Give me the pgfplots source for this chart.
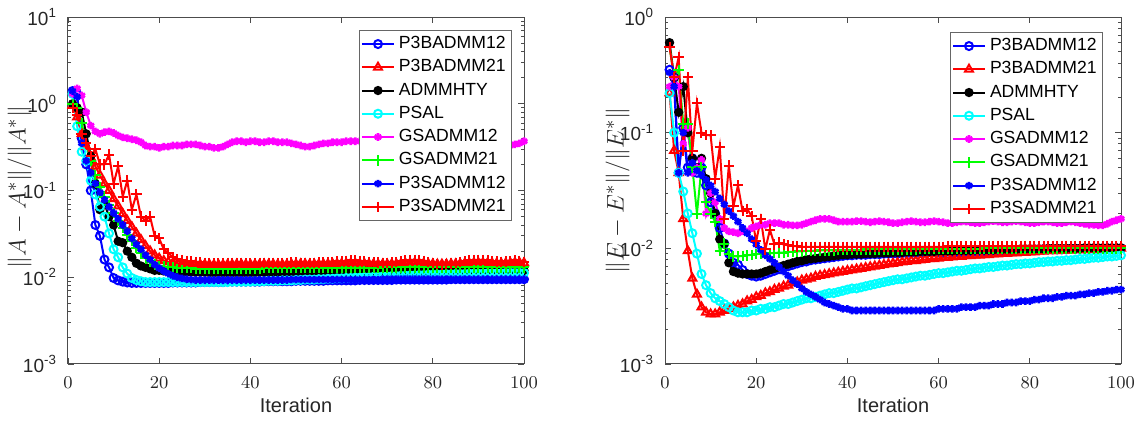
\documentclass[border=0pt]{standalone}
\usepackage{pgfplots}
\pgfplotsset{compat=1.18}
\usepackage{pgfplotstable}
\usepackage{fontspec}
\setmainfont{Liberation Sans}

\definecolor{mblue}{rgb}{0,0,1}
\definecolor{mred}{rgb}{1,0,0}
\definecolor{mcyan}{rgb}{0,1,1}
\definecolor{mmag}{rgb}{1,0,1}
\definecolor{mgreen}{rgb}{0,1,0}

% relative error of A, columns: P3BADMM12 P3BADMM21 ADMMHTY PSAL GSADMM12 GSADMM21 P3SADMM12 P3SADMM21
\pgfplotstableread{
it a b c d e f g h
1 1.40 0.95 1.00 1.30 1.30 1.00 1.40 0.90
2 1.30 0.70 0.90 0.55 1.50 0.90 1.20 0.75
3 0.40 0.45 0.80 0.28 1.25 0.60 0.35 0.45
4 0.20 0.32 0.45 0.22 0.80 0.35 0.22 0.35
5 0.10 0.24 0.25 0.13 0.56 0.22 0.16 0.25
6 0.040 0.19 0.12 0.090 0.48 0.15 0.12 0.30
7 0.030 0.15 0.060 0.065 0.45 0.11 0.095 0.20
8 0.016 0.12 0.070 0.050 0.47 0.085 0.078 0.20
9 0.013 0.10 0.050 0.032 0.48 0.068 0.065 0.26
10 0.0098 0.080 0.040 0.021 0.46 0.055 0.055 0.12
11 0.0092 0.066 0.026 0.017 0.43 0.045 0.047 0.19
12 0.0089 0.054 0.025 0.013 0.41 0.037 0.040 0.085
13 0.0087 0.045 0.020 0.011 0.40 0.031 0.034 0.13
14 0.0086 0.038 0.017 0.0098 0.39 0.026 0.028 0.060
15 0.0086 0.032 0.0145 0.0093 0.38 0.022 0.024 0.090
16 0.0086 0.027 0.0135 0.0090 0.36 0.019 0.021 0.050
17 0.0086 0.023 0.0130 0.0088 0.33 0.0165 0.018 0.045
18 0.0086 0.020 0.0125 0.0088 0.32 0.015 0.016 0.050
19 0.0086 0.018 0.0120 0.0088 0.32 0.014 0.014 0.030
20 0.0086 0.0165 0.0120 0.0088 0.31 0.0135 0.0127 0.028
21 0.0086 0.0155 0.0118 0.0088 0.32 0.0133 0.0118 0.021
22 0.0086 0.0150 0.0117 0.0088 0.32 0.0131 0.0110 0.019
23 0.0087 0.0146 0.0116 0.0088 0.33 0.0130 0.0104 0.017
24 0.0087 0.0144 0.0116 0.0088 0.33 0.0129 0.0100 0.0162
25 0.0087 0.0142 0.0115 0.0088 0.33 0.0128 0.0097 0.0158
26 0.0087 0.0141 0.0115 0.0088 0.34 0.0127 0.0095 0.0155
27 0.0087 0.0140 0.0115 0.0088 0.34 0.0127 0.0094 0.0152
28 0.0087 0.0140 0.0114 0.0088 0.34 0.0126 0.0093 0.0150
29 0.0088 0.0140 0.0114 0.0088 0.33 0.0126 0.0093 0.0148
30 0.0088 0.0140 0.0114 0.0088 0.32 0.0125 0.0093 0.0147
31 0.0088 0.0140 0.0113 0.0088 0.32 0.0125 0.0093 0.0146
32 0.0088 0.0139 0.0113 0.0088 0.31 0.0125 0.0093 0.0145
33 0.0088 0.0139 0.0113 0.0088 0.31 0.0125 0.0093 0.0145
34 0.0088 0.0139 0.0113 0.0088 0.32 0.0125 0.0093 0.0146
35 0.0089 0.0140 0.0113 0.0088 0.34 0.0126 0.0093 0.0147
36 0.0089 0.0140 0.0113 0.0089 0.36 0.0126 0.0093 0.0147
37 0.0089 0.0141 0.0113 0.0089 0.37 0.0126 0.0093 0.0146
38 0.0089 0.0141 0.0113 0.0089 0.37 0.0126 0.0093 0.0145
39 0.0089 0.0140 0.0113 0.0089 0.36 0.0126 0.0093 0.0145
40 0.0089 0.0140 0.0113 0.0089 0.37 0.0126 0.0093 0.0145
41 0.0089 0.0140 0.0113 0.0090 0.37 0.0126 0.0093 0.0146
42 0.0089 0.0140 0.0114 0.0090 0.36 0.0126 0.0093 0.0147
43 0.0090 0.0141 0.0114 0.0090 0.36 0.0127 0.0093 0.0147
44 0.0090 0.0141 0.0114 0.0091 0.37 0.0127 0.0093 0.0146
45 0.0090 0.0141 0.0114 0.0091 0.37 0.0127 0.0093 0.0145
46 0.0090 0.0140 0.0114 0.0091 0.36 0.0127 0.0093 0.0145
47 0.0090 0.0140 0.0114 0.0092 0.36 0.0127 0.0093 0.0146
48 0.0090 0.0140 0.0114 0.0092 0.36 0.0127 0.0093 0.0147
49 0.0090 0.0141 0.0115 0.0092 0.35 0.0127 0.0094 0.0148
50 0.0091 0.0141 0.0115 0.0093 0.34 0.0128 0.0094 0.0148
51 0.0091 0.0142 0.0115 0.0093 0.33 0.0128 0.0094 0.0147
52 0.0091 0.0142 0.0115 0.0094 0.32 0.0128 0.0094 0.0146
53 0.0091 0.0141 0.0115 0.0094 0.32 0.0128 0.0094 0.0146
54 0.0091 0.0141 0.0115 0.0094 0.33 0.0128 0.0094 0.0147
55 0.0091 0.0141 0.0116 0.0095 0.34 0.0128 0.0094 0.0148
56 0.0091 0.0142 0.0116 0.0095 0.35 0.0128 0.0094 0.0149
57 0.0092 0.0142 0.0116 0.0096 0.35 0.0128 0.0094 0.0150
58 0.0092 0.0143 0.0116 0.0096 0.36 0.0128 0.0094 0.0151
59 0.0092 0.0143 0.0116 0.0097 0.36 0.0129 0.0094 0.0152
60 0.0092 0.0143 0.0117 0.0097 0.36 0.0129 0.0094 0.0153
61 0.0092 0.0144 0.0117 0.0098 0.37 0.0129 0.0094 0.0155
62 0.0092 0.0144 0.0117 0.0098 0.37 0.0129 0.0094 0.0156
63 0.0092 0.0144 0.0117 0.0099 0.37 0.0129 0.0094 0.0156
64 0.0093 0.0143 0.0117 0.0099 0.37 0.0129 0.0094 0.0155
65 0.0093 0.0143 0.0118 0.0100 0.36 0.0129 0.0094 0.0153
66 0.0093 0.0142 0.0118 0.0100 0.36 0.0129 0.0094 0.0151
67 0.0093 0.0142 0.0118 0.0101 0.36 0.0129 0.0094 0.0149
68 0.0093 0.0141 0.0118 0.0101 0.36 0.0129 0.0094 0.0148
69 0.0093 0.0141 0.0118 0.0102 0.37 0.0130 0.0095 0.0147
70 0.0093 0.0141 0.0118 0.0102 0.37 0.0130 0.0095 0.0147
71 0.0093 0.0142 0.0118 0.0103 0.36 0.0130 0.0095 0.0148
72 0.0094 0.0142 0.0119 0.0103 0.35 0.0130 0.0095 0.0150
73 0.0094 0.0143 0.0119 0.0104 0.36 0.0130 0.0095 0.0153
74 0.0094 0.0144 0.0119 0.0104 0.37 0.0130 0.0095 0.0156
75 0.0094 0.0145 0.0119 0.0105 0.37 0.0130 0.0095 0.0158
76 0.0094 0.0145 0.0119 0.0105 0.36 0.0130 0.0095 0.0159
77 0.0094 0.0145 0.0119 0.0106 0.36 0.0130 0.0095 0.0158
78 0.0094 0.0144 0.0119 0.0106 0.36 0.0130 0.0095 0.0155
79 0.0094 0.0143 0.0119 0.0107 0.35 0.0130 0.0095 0.0150
80 0.0094 0.0142 0.0120 0.0107 0.34 0.0130 0.0095 0.0145
81 0.0094 0.0141 0.0120 0.0107 0.34 0.0130 0.0095 0.0142
82 0.0094 0.0141 0.0120 0.0108 0.33 0.0130 0.0095 0.0141
83 0.0094 0.0141 0.0120 0.0108 0.33 0.0130 0.0095 0.0142
84 0.0095 0.0142 0.0120 0.0108 0.33 0.0130 0.0095 0.0144
85 0.0095 0.0142 0.0120 0.0109 0.34 0.0130 0.0095 0.0147
86 0.0095 0.0143 0.0120 0.0109 0.35 0.0130 0.0095 0.0150
87 0.0095 0.0144 0.0120 0.0109 0.36 0.0130 0.0095 0.0153
88 0.0095 0.0145 0.0120 0.0110 0.36 0.0130 0.0095 0.0156
89 0.0095 0.0146 0.0120 0.0110 0.36 0.0130 0.0095 0.0158
90 0.0095 0.0146 0.0120 0.0110 0.36 0.0130 0.0095 0.0159
91 0.0095 0.0146 0.0120 0.0110 0.35 0.0130 0.0095 0.0158
92 0.0095 0.0145 0.0120 0.0111 0.35 0.0130 0.0095 0.0156
93 0.0095 0.0145 0.0120 0.0111 0.34 0.0130 0.0095 0.0154
94 0.0095 0.0144 0.0120 0.0111 0.34 0.0130 0.0095 0.0152
95 0.0095 0.0144 0.0120 0.0111 0.33 0.0130 0.0095 0.0151
96 0.0095 0.0145 0.0120 0.0112 0.33 0.0130 0.0095 0.0152
97 0.0095 0.0146 0.0120 0.0112 0.33 0.0130 0.0095 0.0154
98 0.0095 0.0147 0.0120 0.0112 0.34 0.0130 0.0095 0.0156
99 0.0095 0.0147 0.0120 0.0112 0.35 0.0130 0.0095 0.0155
100 0.0095 0.0146 0.0120 0.0112 0.37 0.0130 0.0095 0.0150
}\dataA

% relative error of E, same columns
\pgfplotstableread{
it a b c d e f g h
1 0.35 0.22 0.60 0.22 0.25 0.55 0.33 0.55
2 0.30 0.070 0.30 0.10 0.30 0.30 0.25 0.30
3 0.045 0.045 0.15 0.045 0.25 0.35 0.045 0.45
4 0.11 0.018 0.25 0.031 0.080 0.12 0.10 0.070
5 0.050 0.0095 0.10 0.020 0.11 0.12 0.045 0.30
6 0.060 0.0055 0.060 0.0135 0.045 0.050 0.055 0.070
7 0.045 0.0040 0.050 0.0090 0.050 0.020 0.047 0.18
8 0.050 0.0031 0.060 0.0060 0.058 0.050 0.043 0.10
9 0.035 0.0028 0.040 0.0048 0.020 0.025 0.039 0.095
10 0.025 0.0027 0.030 0.0041 0.030 0.020 0.035 0.095
11 0.020 0.0027 0.020 0.0037 0.025 0.017 0.031 0.040
12 0.015 0.0028 0.012 0.0035 0.018 0.0095 0.027 0.075
13 0.011 0.0029 0.011 0.0033 0.015 0.011 0.024 0.018
14 0.0090 0.0030 0.0075 0.0031 0.014 0.0090 0.021 0.052
15 0.0075 0.0031 0.0063 0.0029 0.0138 0.0085 0.019 0.023
16 0.0072 0.0032 0.0061 0.0028 0.0135 0.0085 0.017 0.035
17 0.0065 0.0033 0.0060 0.0028 0.0140 0.0086 0.015 0.021
18 0.0060 0.0035 0.0060 0.0028 0.0140 0.0087 0.0135 0.022
19 0.0058 0.0036 0.0060 0.0029 0.0150 0.0088 0.0120 0.019
20 0.0057 0.0038 0.0060 0.0029 0.0155 0.0089 0.0108 0.0115
21 0.0058 0.0039 0.0061 0.0030 0.0160 0.0090 0.0097 0.018
22 0.0060 0.0041 0.0063 0.0030 0.0160 0.0090 0.0087 0.0098
23 0.0062 0.0042 0.0065 0.0031 0.0165 0.0091 0.0081 0.0145
24 0.0064 0.0044 0.0067 0.0031 0.0165 0.0091 0.0075 0.0108
25 0.0066 0.0045 0.0069 0.0032 0.0165 0.0092 0.0069 0.0112
26 0.0068 0.0047 0.0071 0.0033 0.0160 0.0092 0.0063 0.0108
27 0.0070 0.0048 0.0073 0.0033 0.0160 0.0093 0.0058 0.0106
28 0.0072 0.0050 0.0075 0.0034 0.0158 0.0093 0.0053 0.0105
29 0.0074 0.0051 0.0077 0.0035 0.0158 0.0094 0.0049 0.0104
30 0.0076 0.0053 0.0078 0.0036 0.0160 0.0094 0.0045 0.0103
31 0.0077 0.0054 0.0080 0.0037 0.0165 0.0095 0.0042 0.0103
32 0.0079 0.0055 0.0081 0.0037 0.0170 0.0095 0.0040 0.0103
33 0.0080 0.0057 0.0082 0.0038 0.0175 0.0095 0.0038 0.0103
34 0.0081 0.0058 0.0083 0.0039 0.0180 0.0096 0.0036 0.0103
35 0.0082 0.0059 0.0084 0.0040 0.0180 0.0096 0.0034 0.0103
36 0.0083 0.0060 0.0085 0.0041 0.0180 0.0096 0.0033 0.0103
37 0.0084 0.0061 0.0086 0.0041 0.0175 0.0096 0.0032 0.0103
38 0.0085 0.0062 0.0087 0.0042 0.0170 0.0097 0.0031 0.0103
39 0.0086 0.0063 0.0088 0.0043 0.0170 0.0097 0.0030 0.0103
40 0.0087 0.0064 0.0088 0.0044 0.0170 0.0097 0.0030 0.0103
41 0.0087 0.0065 0.0089 0.0045 0.0170 0.0097 0.0029 0.0103
42 0.0088 0.0066 0.0089 0.0045 0.0172 0.0097 0.0029 0.0103
43 0.0088 0.0067 0.0089 0.0046 0.0172 0.0097 0.0029 0.0103
44 0.0088 0.0068 0.0090 0.0047 0.0170 0.0098 0.0029 0.0103
45 0.0089 0.0069 0.0090 0.0048 0.0168 0.0098 0.0029 0.0103
46 0.0089 0.0070 0.0090 0.0049 0.0170 0.0098 0.0029 0.0103
47 0.0089 0.0071 0.0091 0.0050 0.0172 0.0098 0.0029 0.0103
48 0.0090 0.0072 0.0091 0.0051 0.0170 0.0098 0.0029 0.0103
49 0.0090 0.0073 0.0091 0.0052 0.0168 0.0098 0.0029 0.0103
50 0.0090 0.0074 0.0092 0.0053 0.0165 0.0098 0.0029 0.0103
51 0.0090 0.0075 0.0092 0.0054 0.0165 0.0098 0.0029 0.0103
52 0.0091 0.0076 0.0092 0.0054 0.0168 0.0098 0.0029 0.0103
53 0.0091 0.0077 0.0093 0.0055 0.0170 0.0098 0.0029 0.0103
54 0.0091 0.0078 0.0093 0.0056 0.0172 0.0098 0.0029 0.0103
55 0.0092 0.0078 0.0093 0.0057 0.0170 0.0098 0.0029 0.0103
56 0.0092 0.0079 0.0094 0.0058 0.0168 0.0099 0.0029 0.0103
57 0.0092 0.0080 0.0094 0.0058 0.0168 0.0099 0.0029 0.0103
58 0.0093 0.0081 0.0094 0.0059 0.0170 0.0099 0.0029 0.0103
59 0.0093 0.0081 0.0094 0.0060 0.0172 0.0099 0.0029 0.0103
60 0.0093 0.0082 0.0095 0.0061 0.0170 0.0099 0.0030 0.0103
61 0.0093 0.0083 0.0095 0.0061 0.0168 0.0099 0.0030 0.0103
62 0.0094 0.0083 0.0095 0.0062 0.0165 0.0099 0.0030 0.0104
63 0.0094 0.0084 0.0095 0.0063 0.0165 0.0099 0.0030 0.0104
64 0.0094 0.0085 0.0096 0.0064 0.0168 0.0099 0.0030 0.0104
65 0.0094 0.0085 0.0096 0.0064 0.0170 0.0099 0.0031 0.0104
66 0.0095 0.0086 0.0096 0.0065 0.0170 0.0099 0.0031 0.0104
67 0.0095 0.0086 0.0096 0.0066 0.0168 0.0099 0.0031 0.0104
68 0.0095 0.0087 0.0097 0.0067 0.0165 0.0099 0.0031 0.0104
69 0.0095 0.0087 0.0097 0.0067 0.0165 0.0099 0.0032 0.0104
70 0.0095 0.0088 0.0097 0.0068 0.0168 0.0100 0.0032 0.0104
71 0.0096 0.0088 0.0097 0.0069 0.0170 0.0100 0.0032 0.0104
72 0.0096 0.0089 0.0097 0.0069 0.0172 0.0100 0.0033 0.0104
73 0.0096 0.0089 0.0098 0.0070 0.0170 0.0100 0.0033 0.0104
74 0.0096 0.0090 0.0098 0.0071 0.0168 0.0100 0.0033 0.0104
75 0.0096 0.0090 0.0098 0.0071 0.0168 0.0100 0.0034 0.0104
76 0.0097 0.0091 0.0098 0.0072 0.0170 0.0100 0.0034 0.0104
77 0.0097 0.0091 0.0098 0.0073 0.0172 0.0100 0.0034 0.0104
78 0.0097 0.0092 0.0099 0.0073 0.0170 0.0100 0.0035 0.0105
79 0.0097 0.0092 0.0099 0.0074 0.0168 0.0100 0.0035 0.0105
80 0.0097 0.0093 0.0099 0.0074 0.0165 0.0100 0.0035 0.0105
81 0.0097 0.0093 0.0099 0.0075 0.0165 0.0100 0.0036 0.0105
82 0.0098 0.0094 0.0099 0.0076 0.0168 0.0100 0.0036 0.0105
83 0.0098 0.0094 0.0099 0.0076 0.0170 0.0100 0.0037 0.0105
84 0.0098 0.0095 0.0100 0.0077 0.0170 0.0100 0.0037 0.0105
85 0.0098 0.0095 0.0100 0.0077 0.0168 0.0100 0.0037 0.0105
86 0.0098 0.0095 0.0100 0.0078 0.0165 0.0100 0.0038 0.0105
87 0.0098 0.0096 0.0100 0.0078 0.0165 0.0100 0.0038 0.0105
88 0.0098 0.0096 0.0100 0.0079 0.0168 0.0100 0.0039 0.0105
89 0.0099 0.0096 0.0100 0.0079 0.0170 0.0100 0.0039 0.0105
90 0.0099 0.0097 0.0100 0.0080 0.0168 0.0100 0.0039 0.0105
91 0.0099 0.0097 0.0100 0.0081 0.0165 0.0100 0.0040 0.0105
92 0.0099 0.0097 0.0101 0.0081 0.0163 0.0100 0.0040 0.0105
93 0.0099 0.0098 0.0101 0.0082 0.0160 0.0100 0.0041 0.0105
94 0.0099 0.0098 0.0101 0.0083 0.0160 0.0100 0.0041 0.0105
95 0.0099 0.0098 0.0101 0.0083 0.0158 0.0100 0.0042 0.0105
96 0.0099 0.0099 0.0101 0.0084 0.0158 0.0100 0.0042 0.0105
97 0.0100 0.0099 0.0101 0.0085 0.0163 0.0100 0.0043 0.0105
98 0.0100 0.0099 0.0101 0.0085 0.0170 0.0100 0.0043 0.0105
99 0.0100 0.0100 0.0101 0.0086 0.0175 0.0100 0.0044 0.0105
100 0.0100 0.0100 0.0101 0.0087 0.0180 0.0100 0.0044 0.0105
}\dataE

\pgfplotsset{
    mysA/.style={mblue, line width=1pt, mark=o, mark size=2pt, mark options={solid,line width=1pt}},
    mysB/.style={mred, line width=1pt, mark=triangle, mark size=2.3pt, mark options={solid,line width=1pt}},
    mysC/.style={black, line width=1pt, mark=*, mark size=1.8pt},
    mysD/.style={mcyan, line width=1pt, mark=o, mark size=2pt, mark options={solid,line width=1pt}},
    mysE/.style={mmag, line width=1pt, mark=asterisk, mark size=1.9pt, mark options={solid,line width=1.3pt}},
    mysF/.style={mgreen, line width=1pt, mark=+, mark size=2.6pt, mark options={solid,line width=1pt}},
    mysG/.style={mblue, line width=1pt, mark=asterisk, mark size=1.9pt, mark options={solid,line width=1.3pt}},
    mysH/.style={mred, line width=1pt, mark=+, mark size=2.6pt, mark options={solid,line width=1pt}},
}

\begin{document}
\begin{tikzpicture}
\useasboundingbox (-34pt,-31pt) rectangle (537.5pt,182pt);

\begin{axis}[
    scale only axis, width=228pt, height=173.5pt,
    at={(0pt,0pt)}, anchor=south west,
    ymode=log, xmin=0, xmax=100, ymin=1e-3, ymax=10,
    xtick={0,20,40,60,80,100},
    ytick={0.001,0.01,0.1,1,10},
    yticklabels={10\textsuperscript{-3},10\textsuperscript{-2},10\textsuperscript{-1},10\textsuperscript{0},10\textsuperscript{1}},
    minor ytick={0.002,0.003,0.004,0.005,0.006,0.007,0.008,0.009,
                 0.02,0.03,0.04,0.05,0.06,0.07,0.08,0.09,
                 0.2,0.3,0.4,0.5,0.6,0.7,0.8,0.9,2,3,4,5,6,7,8,9},
    axis line style={black!70, line width=0.5pt},
    tick style={black!70, line width=0.4pt},
    major tick length=3pt, minor tick length=1.7pt,
    tick label style={font=\fontsize{9.5}{11}\selectfont, text=black!85},
    xticklabel style={yshift=-3pt},
    yticklabel style={xshift=-2pt},
    xlabel={Iteration},
    xlabel style={at={(axis description cs:0.5,0)}, yshift=-20.5pt, anchor=center,
        font=\fontsize{10}{12}\selectfont, text=black!85},
    ylabel={$\|A-A^{*}\|/\|A^{*}\|$},
    ylabel style={at={(axis description cs:-0.106,0.51)}, anchor=center,
        font=\fontsize{12.5}{15}\selectfont, text=black!85},
    legend cell align=left,
    legend image code/.code={
        \draw[mark repeat=2, mark phase=2] plot coordinates {(0pt,0pt) (8pt,0pt) (16pt,0pt)};},
    legend style={at={([xshift=-6pt,yshift=-6.5pt]rel axis cs:1,1)}, anchor=north east,
        draw=black!60, line width=0.4pt, fill=white,
        font=\fontsize{8.8}{10}\selectfont, inner sep=1pt, row sep=0pt},
]
\addplot[mysA] table[x=it,y=a]{\dataA};
\addplot[mysB] table[x=it,y=b]{\dataA};
\addplot[mysC] table[x=it,y=c]{\dataA};
\addplot[mysD] table[x=it,y=d]{\dataA};
\addplot[mysE] table[x=it,y=e]{\dataA};
\addplot[mysF] table[x=it,y=f]{\dataA};
\addplot[mysG] table[x=it,y=g]{\dataA};
\addplot[mysH] table[x=it,y=h]{\dataA};
\legend{P3BADMM12,P3BADMM21,ADMMHTY,PSAL,GSADMM12,GSADMM21,P3SADMM12,P3SADMM21}
\end{axis}

\begin{axis}[
    scale only axis, width=228pt, height=173.5pt,
    at={(298.5pt,0pt)}, anchor=south west,
    ymode=log, xmin=0, xmax=100, ymin=1e-3, ymax=1,
    xtick={0,20,40,60,80,100},
    ytick={0.001,0.01,0.1,1},
    yticklabels={10\textsuperscript{-3},10\textsuperscript{-2},10\textsuperscript{-1},10\textsuperscript{0}},
    minor ytick={0.002,0.003,0.004,0.005,0.006,0.007,0.008,0.009,
                 0.02,0.03,0.04,0.05,0.06,0.07,0.08,0.09,
                 0.2,0.3,0.4,0.5,0.6,0.7,0.8,0.9},
    axis line style={black!70, line width=0.5pt},
    tick style={black!70, line width=0.4pt},
    major tick length=3pt, minor tick length=1.7pt,
    tick label style={font=\fontsize{9.5}{11}\selectfont, text=black!85},
    xticklabel style={yshift=-3pt},
    yticklabel style={xshift=-2pt},
    xlabel={Iteration},
    xlabel style={at={(axis description cs:0.5,0)}, yshift=-20.5pt, anchor=center,
        font=\fontsize{10}{12}\selectfont, text=black!85},
    ylabel={$\|E-E^{*}\|/\|E^{*}\|$},
    ylabel style={at={(axis description cs:-0.104,0.5)}, anchor=center,
        font=\fontsize{12.5}{15}\selectfont, text=black!85},
    legend cell align=left,
    legend image code/.code={
        \draw[mark repeat=2, mark phase=2] plot coordinates {(0pt,0pt) (8pt,0pt) (16pt,0pt)};},
    legend style={at={([xshift=-9pt,yshift=-7.5pt]rel axis cs:1,1)}, anchor=north east,
        draw=black!60, line width=0.4pt, fill=white,
        font=\fontsize{8.8}{10}\selectfont, inner sep=1pt, row sep=0pt},
]
\addplot[mysA] table[x=it,y=a]{\dataE};
\addplot[mysB] table[x=it,y=b]{\dataE};
\addplot[mysC] table[x=it,y=c]{\dataE};
\addplot[mysD] table[x=it,y=d]{\dataE};
\addplot[mysE] table[x=it,y=e]{\dataE};
\addplot[mysF] table[x=it,y=f]{\dataE};
\addplot[mysG] table[x=it,y=g]{\dataE};
\addplot[mysH] table[x=it,y=h]{\dataE};
\legend{P3BADMM12,P3BADMM21,ADMMHTY,PSAL,GSADMM12,GSADMM21,P3SADMM12,P3SADMM21}
\end{axis}
\end{tikzpicture}
\end{document}
